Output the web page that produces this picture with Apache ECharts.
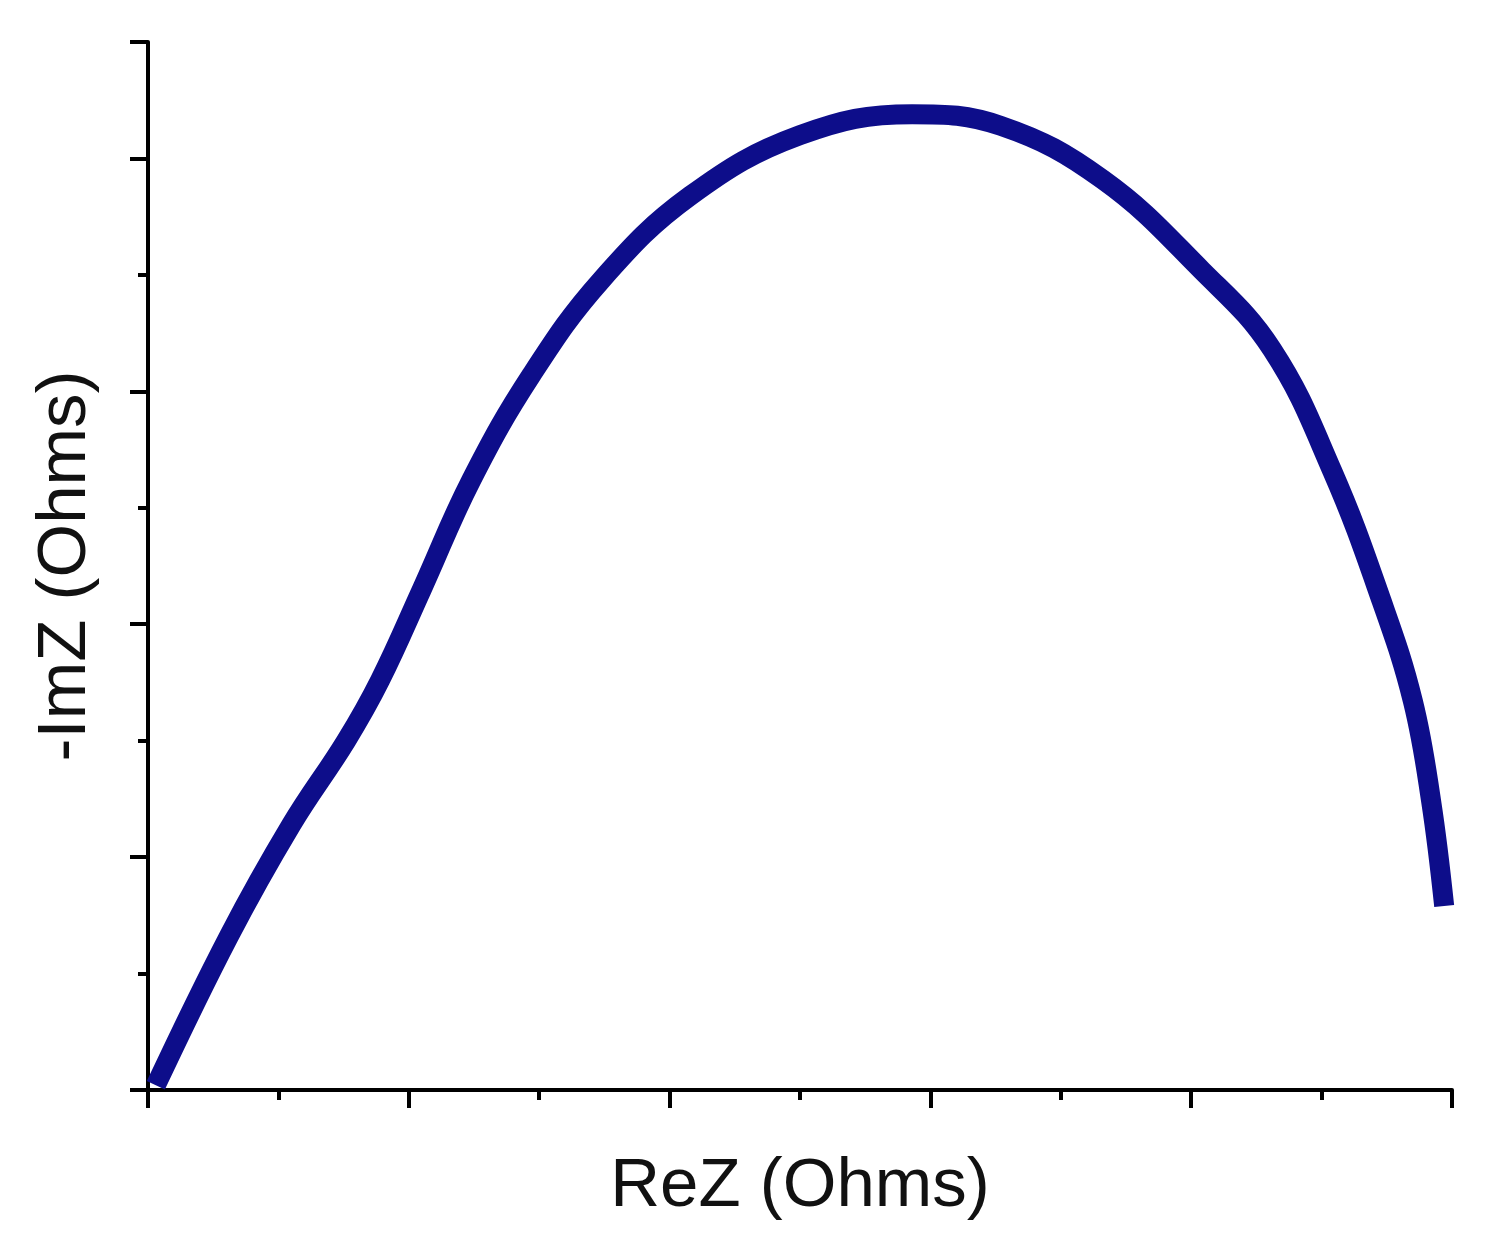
<!DOCTYPE html>
<html>
<head>
<meta charset="utf-8">
<script src="https://cdn.jsdelivr.net/npm/echarts@6/dist/echarts.min.js"></script>
<style>html,body{margin:0;padding:0;background:#fff}#chart{width:1495px;height:1240px}</style>
</head>
<body>
<div id="chart"></div>
<script>
// Nyquist curve (axis units = major ticks)
var reZ = [0.03, 0.31, 0.55, 0.76, 0.89, 1.05, 1.24, 1.47, 1.74, 2.08, 2.50, 2.93, 3.27, 3.66, 4.04, 4.31, 4.54, 4.73, 4.85, 4.92, 4.97];
var imZ = [0.02, 0.66, 1.14, 1.50, 1.76, 2.15, 2.62, 3.07, 3.48, 3.84, 4.10, 4.19, 4.14, 3.91, 3.52, 3.18, 2.66, 2.10, 1.67, 1.24, 0.79];

var points = [];
for (var i = 0; i < reZ.length; i++) {
	points.push([reZ[i], imZ[i]]);
}

var chart = echarts.init(document.getElementById('chart'));
var axisCommon = {
	type: 'value',
	interval: 1,
	nameLocation: 'middle',
	nameTextStyle: {fontSize: 69, color: '#111', fontFamily: 'Liberation Sans'},
	axisLine: {show: true, lineStyle: {color: '#000', width: 4}},
	axisTick: {show: true, inside: false, length: 18, lineStyle: {color: '#000', width: 4}},
	minorTick: {show: true, splitNumber: 2, length: 10, lineStyle: {color: '#000', width: 4}},
	axisLabel: {show: false},
	splitLine: {show: false}
};
chart.setOption({
	animation: false,
	grid: {left: 148, right: 43, top: 42, bottom: 150},
	xAxis: Object.assign({}, axisCommon, {min: 0, max: 5, name: 'ReZ (Ohms)', nameGap: 62}),
	yAxis: Object.assign({}, axisCommon, {min: 0, max: 4.5, name: '-ImZ (Ohms)', nameGap: 48}),
	series: [{
		type: 'line',
		data: points,
		smooth: 0.4,
		showSymbol: false,
		lineStyle: {color: '#0d0d8a', width: 20, cap: 'butt'}
	}]
});
</script>
</body>
</html>
